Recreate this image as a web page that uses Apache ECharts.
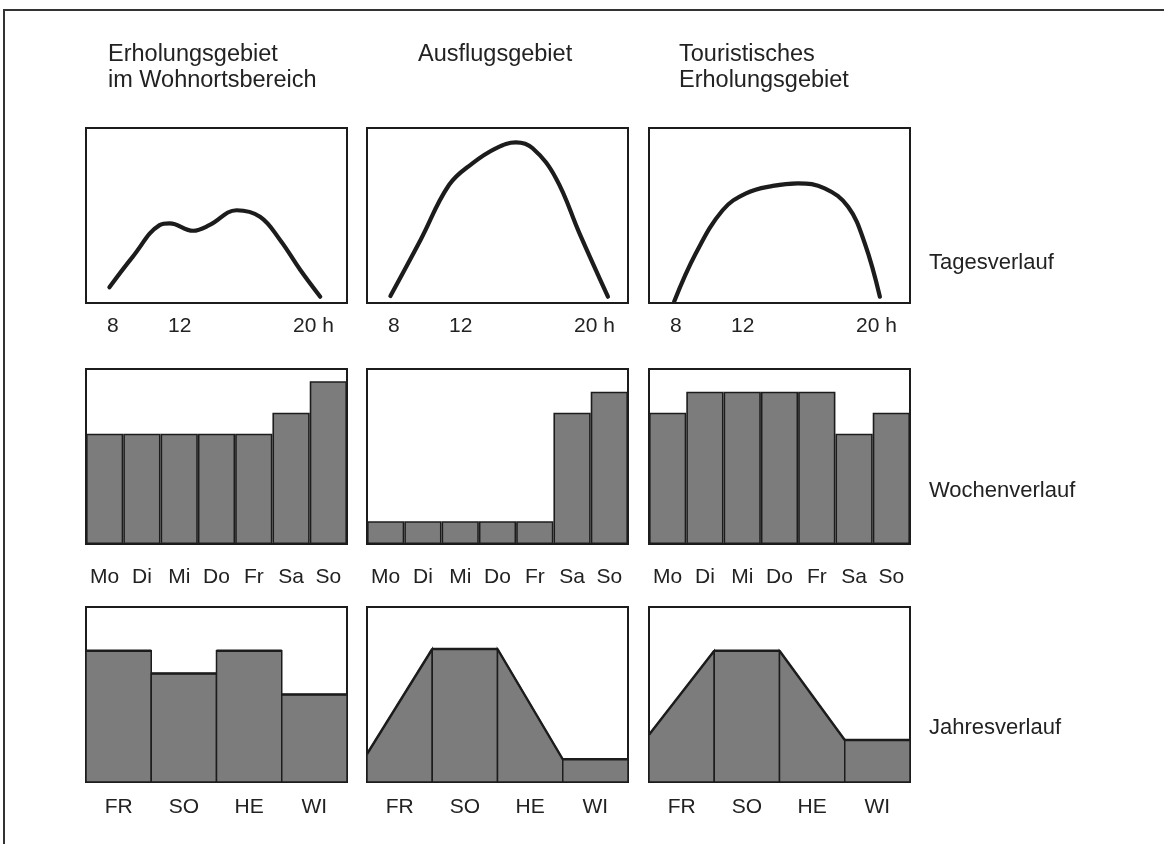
<!DOCTYPE html>
<html><head><meta charset="utf-8">
<script src="https://cdn.jsdelivr.net/npm/echarts@6/dist/echarts.min.js"></script>
<style>html,body{margin:0;padding:0;background:#fff}#c{width:1164px;height:844px}</style>
</head><body><div id="c"></div><script>
// ---- data ----
const columnTitles = ['Erholungsgebiet\nim Wohnortsbereich', 'Ausflugsgebiet', 'Touristisches\nErholungsgebiet'];
const rowTitles = ['Tagesverlauf', 'Wochenverlauf', 'Jahresverlauf'];

const hourTicks = [8, 12, 20];
const dayCurve1 = [[7.8, 9], [9.2, 26.5], [10.8, 44.5], [11.4, 45.5], [12.8, 41.3], [13.8, 44.6], [15.4, 53], [16.8, 49.3], [18.0, 36], [19.2, 19], [20.4, 3.6]];
const dayCurve2 = [[7.8, 4], [9.6, 36], [11.3, 67.4], [12.7, 79.8], [14.1, 88.4], [15.3, 91.8], [16.3, 88.4], [17.7, 71.2], [19.1, 39.8], [20.8, 3.6]];
const dayCurve3 = [[7.9, 0.7], [9.2, 28.4], [10.8, 53], [12.2, 62.7], [13.8, 66.9], [15.3, 68.4], [16.9, 65.5], [18.3, 55], [19.3, 34], [20.2, 3.6]];

const weekdays = ['Mo', 'Di', 'Mi', 'Do', 'Fr', 'Sa', 'So'];
const week1 = [63, 63, 63, 63, 63, 75, 93];
const week2 = [13, 13, 13, 13, 13, 75, 87];
const week3 = [75, 87, 87, 87, 87, 63, 75];

const seasons = ['FR', 'SO', 'HE', 'WI'];
const yearFrom1 = [75, 62, 75, 50];
const yearTo1   = [75, 62, 75, 50];
const yearFrom2 = [16, 76, 76, 13];
const yearTo2   = [76, 76, 13, 13];
const yearFrom3 = [27, 75, 75, 24];
const yearTo3   = [75, 75, 24, 24];

// ---- layout / style ----
const INK = '#1c1c1c';
const TXT = '#222';
const FILL = '#7c7c7c';
const FONT = '"Liberation Sans", Arial, Helvetica, sans-serif';
const colLeft = [86, 367, 649];
const rowTop = [128, 369, 607];
const W = 261, H = 175;

const grids = [], xAxes = [], yAxes = [], series = [];
for (let r = 0; r < 3; r++) {
  for (let c = 0; c < 3; c++) {
    grids.push({ left: colLeft[c], top: rowTop[r], width: W, height: H, show: true,
      borderColor: INK, borderWidth: 2, backgroundColor: 'transparent' });
    yAxes.push({ type: 'value', gridIndex: r * 3 + c, min: 0, max: 100, show: false });
  }
}
const lbl = (margin) => ({ fontSize: 21, color: TXT, fontFamily: FONT, margin: margin });

// day row
const dayCurves = [dayCurve1, dayCurve2, dayCurve3];
for (let c = 0; c < 3; c++) {
  xAxes.push({ type: 'value', gridIndex: c, min: 6.4, max: 22,
    axisLine: { show: false }, axisTick: { show: false, customValues: hourTicks }, splitLine: { show: false },
    axisLabel: Object.assign(lbl(13), { customValues: hourTicks, formatter: v => v === 20 ? '20 h' : String(v) }) });
  series.push({ type: 'line', xAxisIndex: c, yAxisIndex: c, data: dayCurves[c], smooth: 0.4,
    symbol: 'none', lineStyle: { color: INK, width: 4.2, cap: 'round' }, z: 3 });
}
// week row
const weeks = [week1, week2, week3];
for (let c = 0; c < 3; c++) {
  const gi = 3 + c;
  xAxes.push({ type: 'category', gridIndex: gi, data: weekdays,
    axisLine: { show: false }, axisTick: { show: false },
    axisLabel: Object.assign(lbl(23), { interval: 0 }) });
  series.push({ type: 'bar', xAxisIndex: gi, yAxisIndex: gi, data: weeks[c], barCategoryGap: '0%',
    itemStyle: { color: FILL, borderColor: INK, borderWidth: 1.6 } });
}
// year row
const yearFrom = [yearFrom1, yearFrom2, yearFrom3];
const yearTo = [yearTo1, yearTo2, yearTo3];
function renderSeason(params, api) {
  const i = api.value(0), a = api.value(1), b = api.value(2);
  const w = api.size([1, 0])[0];
  const base = api.coord([i, 0]);
  const pa = api.coord([i, a]);
  const pb = api.coord([i, b]);
  const x0 = base[0] - w / 2, x1 = base[0] + w / 2;
  return {
    type: 'group',
    children: [
      { type: 'polygon', shape: { points: [[x0, base[1]], [x0, pa[1]], [x1, pb[1]], [x1, base[1]]] },
        style: { fill: FILL, stroke: INK, lineWidth: 1.5 } },
      { type: 'line', shape: { x1: x0, y1: pa[1], x2: x1, y2: pb[1] },
        style: { stroke: INK, lineWidth: 2.4 } }
    ]
  };
}
for (let c = 0; c < 3; c++) {
  const gi = 6 + c;
  xAxes.push({ type: 'category', gridIndex: gi, data: seasons,
    axisLine: { show: false }, axisTick: { show: false },
    axisLabel: Object.assign(lbl(15), { interval: 0 }) });
  series.push({ type: 'custom', xAxisIndex: gi, yAxisIndex: gi,
    data: seasons.map((s, i) => [i, yearFrom[c][i], yearTo[c][i]]),
    encode: { x: 0, y: [1, 2] }, renderItem: renderSeason });
}

const titles = [];
const titleX = [108, 418, 679];
columnTitles.forEach((t, i) => titles.push({ text: t, left: titleX[i], top: 41, padding: 0,
  textStyle: { fontSize: 23.5, fontWeight: 'normal', color: TXT, fontFamily: FONT, lineHeight: 26.5 } }));
const rowY = [250, 478, 715];
rowTitles.forEach((t, i) => titles.push({ text: t, left: 929, top: rowY[i], padding: 0,
  textStyle: { fontSize: 22, fontWeight: 'normal', color: TXT, fontFamily: FONT, lineHeight: 26 } }));

const chart = echarts.init(document.getElementById('c'), null, { renderer: 'canvas' });
chart.setOption({
  animation: false,
  backgroundColor: '#fff',
  title: titles,
  grid: grids, xAxis: xAxes, yAxis: yAxes, series: series,
  graphic: [{ type: 'polyline', shape: { points: [[4, 844], [4, 10], [1164, 10]] },
    style: { stroke: '#333', lineWidth: 2, fill: null } }]
});
</script></body></html>
